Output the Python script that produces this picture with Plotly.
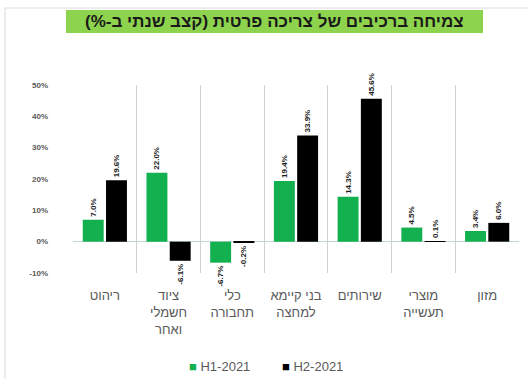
import plotly.graph_objects as go

# Private-consumption components, annual growth rate (%)
categories = [
    "ריהוט",
    "ציוד<br>חשמלי<br>ואחר",
    "כלי<br>תחבורה",
    "בני קיימא<br>למחצה",
    "שירותים",
    "מוצרי<br>תעשייה",
    "מזון",
]
h1_2021 = [7.0, 22.0, -6.7, 19.4, 14.3, 4.5, 3.4]
h2_2021 = [19.6, -6.1, -0.2, 33.9, 45.6, 0.1, 6.0]
series_names = ["H1-2021", "H2-2021"]
series_colors = ["#13B04F", "#000000"]
y_ticks = [-10, 0, 10, 20, 30, 40, 50]

W, H = 528, 379
L, R, T, B = 73, 9, 85, 106
pw, ph = W - L - R, H - T - B


def px_x(x):
    return (x - L) / pw


def px_y(y):
    return (H - B - y) / ph


FONT = "Arial, Liberation Sans, DejaVu Sans, sans-serif"
RLM = "\u200f"

fig = go.Figure()
for name, vals, color in zip(series_names, [h1_2021, h2_2021], series_colors):
    fig.add_trace(
        go.Bar(
            x=categories,
            y=vals,
            name=name,
            marker=dict(color=color, line=dict(width=0)),
            text=[f"{v:.1f}%" for v in vals],
            textposition="outside",
            textangle=-90,
            constraintext="none",
            textfont=dict(family=FONT, size=8, color="#222222", weight="bold"),
            cliponaxis=False,
        )
    )

fig.update_layout(
    width=W,
    height=H,
    margin=dict(l=L, r=R, t=T, b=B),
    paper_bgcolor="white",
    plot_bgcolor="white",
    barmode="group",
    bargap=0.27,
    bargroupgap=0.1,
    font=dict(family=FONT),
    showlegend=False,
    uniformtext=dict(mode=False),
)

fig.update_xaxes(
    type="category",
    tickson="boundaries",
    showgrid=True,
    gridcolor="#D0D0D0",
    gridwidth=1,
    showline=False,
    ticks="",
    tickfont=dict(size=13, color="#595959"),
    ticklabelstandoff=13,
    range=[-0.5, len(categories) - 0.5],
)
fig.update_yaxes(
    range=[-10, 50],
    tickvals=y_ticks,
    ticktext=[f"{v}%" for v in y_ticks],
    showgrid=False,
    zeroline=True,
    zerolinecolor="#BCD9D6",
    zerolinewidth=1,
    showline=False,
    tickfont=dict(size=8, color="#595959", weight="bold"),
    ticklabelstandoff=24,
)

# series key below the chart
for name, color, x_left in zip(series_names, series_colors, [187, 280]):
    fig.add_annotation(
        xref="paper", yref="paper",
        x=px_x(x_left), y=px_y(366),
        xanchor="left", yanchor="middle",
        text=f"<span style='color:{color}'>■</span> {name}",
        showarrow=False,
        font=dict(family=FONT, size=13, color="#595959"),
    )

# outer frame of the chart box
fig.add_shape(
    type="line", xref="paper", yref="paper",
    x0=px_x(5), x1=px_x(5), y0=px_y(8), y1=px_y(379),
    line=dict(color="#D9D9D9", width=1),
)
fig.add_shape(
    type="line", xref="paper", yref="paper",
    x0=px_x(5), x1=px_x(528), y0=px_y(8), y1=px_y(8),
    line=dict(color="#D9D9D9", width=1),
)

# highlighted heading
fig.add_shape(
    type="rect", xref="paper", yref="paper",
    x0=px_x(66), x1=px_x(483), y0=px_y(33), y1=px_y(10),
    fillcolor="#8ED34E", line=dict(width=0), layer="below",
)
fig.add_annotation(
    xref="paper", yref="paper",
    x=px_x(274), y=px_y(21.5),
    text=RLM + "צמיחה ברכיבים של צריכה פרטית (קצב שנתי ב-%)" + RLM,
    showarrow=False,
    xanchor="center", yanchor="middle",
    font=dict(family=FONT, size=17, color="#1A1A1A", weight="bold"),
)

fig.write_html("out.html")
